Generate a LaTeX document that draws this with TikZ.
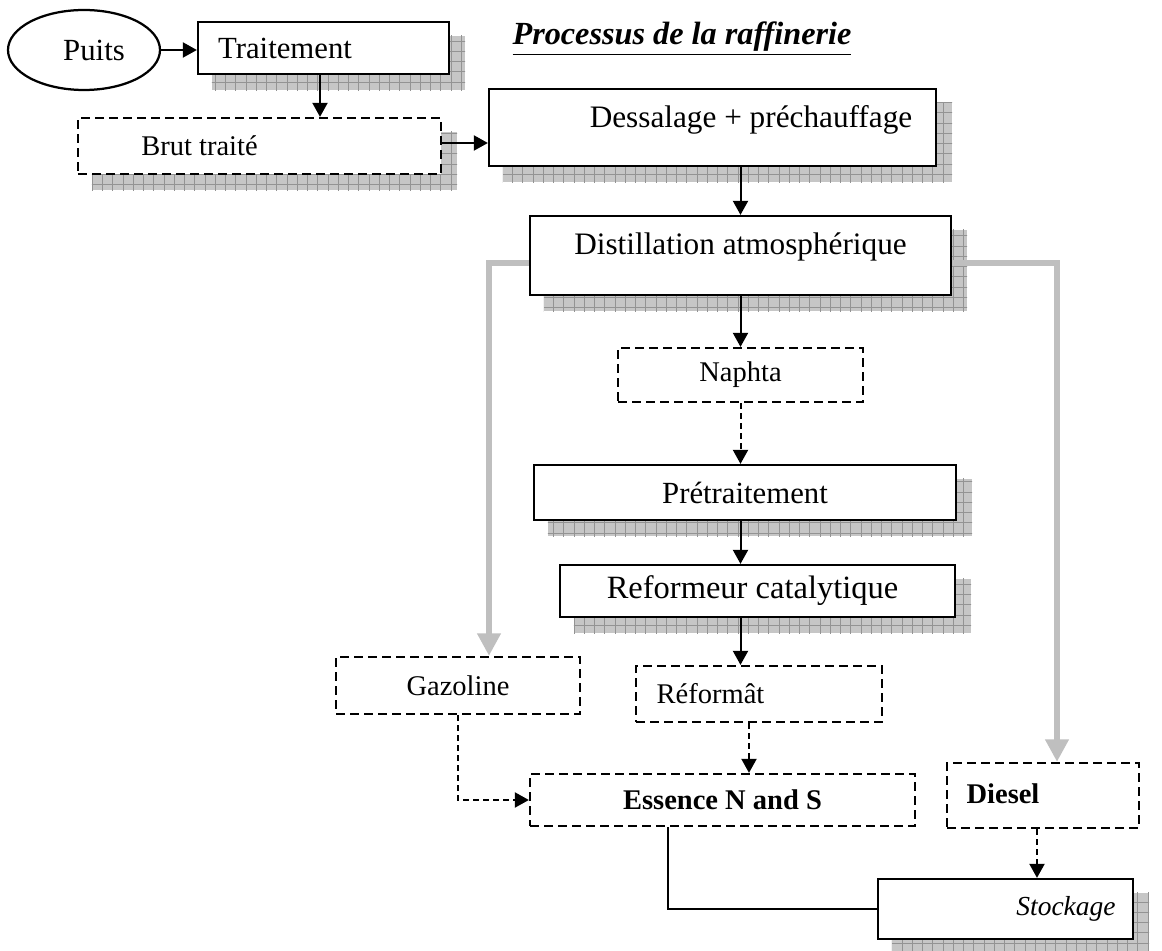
\documentclass[tikz,border=0pt]{standalone}
\usepackage{fontspec}
\setmainfont{Liberation Serif}
\usetikzlibrary{arrows.meta,shapes.geometric,backgrounds,calc}
\newcommand\pxu{0.4pt}
\newcommand\mvtext[3]{\hspace*{#1}\raisebox{#2}[\height][\depth]{#3}\hspace*{-#1}}
\newcommand\mkshadow[1]{%
  \begin{scope}
    \clip ([shift={(15,15)}]#1.north west) rectangle ([shift={(15,15)}]#1.south east);
    \fill[shadowfill] ([shift={(15,15)}]#1.north west) rectangle ([shift={(15,15)}]#1.south east);
    \draw[shadowgrid] ([shift={(5,5)}]#1.north west) grid ([shift={(25,25)}]#1.south east);
  \end{scope}}
\begin{document}
\begin{tikzpicture}[x=0.4pt, y=-0.4pt,
  every node/.style={font=\fontsize{12.3}{14}\selectfont},
  small/.style={font=\fontsize{11.4}{13}\selectfont},
  box/.style={draw, line width=0.9pt, fill=white, inner sep=0pt, rectangle},
  dbox/.style={box, small, dash pattern=on 3.6pt off 2pt},
  arr/.style={line width=0.8pt, -{Triangle[width=6pt,length=5.6pt]}},
  darr/.style={arr, dash pattern=on 2.4pt off 1.6pt},
  garr/.style={line width=2.4pt, draw=gray!50, -{Triangle[width=9pt,length=9pt]}},
  conn/.style={line width=0.8pt},
  shadowfill/.style={fill=gray!45},
  shadowgrid/.style={draw=gray!85, line width=0.35pt, step=4.1pt}]
\useasboundingbox (0,0) rectangle (1162,951);

% title
\node[font=\fontsize{12.9}{15}\selectfont\bfseries\itshape] (title) at (682,39) {\underline{Processus de la raffinerie}};

% nodes
\node[draw, ellipse, line width=0.9pt, minimum width=152*\pxu, minimum height=80*\pxu, inner sep=0pt] (puits) at (84,50) {\mvtext{4pt}{0pt}{Puits}};
\node[box, minimum width=251*\pxu, minimum height=52*\pxu] (trait) at (323.5,48) {\mvtext{-15.4pt}{0pt}{Traitement}};
\node[dbox, minimum width=363*\pxu, minimum height=56*\pxu] (brut) at (259.5,146) {\mvtext{-24pt}{0pt}{Brut traité}};
\node[box, font=\fontsize{12.5}{14}\selectfont, minimum width=447*\pxu, minimum height=77*\pxu] (dessal) at (712.5,127.5) {\mvtext{15.4pt}{3pt}{Dessalage + préchauffage}};
\node[box, font=\fontsize{12.5}{14}\selectfont, minimum width=421*\pxu, minimum height=79*\pxu] (distil) at (740.5,255.5) {\mvtext{0pt}{3.4pt}{Distillation atmosphérique}};
\node[dbox, minimum width=245*\pxu, minimum height=54*\pxu] (naphta) at (740.5,375) {Naphta};
\node[box, minimum width=422*\pxu, minimum height=55*\pxu] (pretr) at (745,492.5) {Prétraitement};
\node[box, font=\fontsize{13}{15}\selectfont, minimum width=395*\pxu, minimum height=52*\pxu] (reform) at (757.5,591) {\mvtext{-2pt}{0pt}{Reformeur catalytique}};
\node[dbox, minimum width=244*\pxu, minimum height=57*\pxu] (gazol) at (458,685.5) {Gazoline};
\node[dbox, minimum width=246*\pxu, minimum height=56*\pxu] (reformat) at (759,694) {\mvtext{-19.4pt}{0pt}{Réformât}};
\node[dbox, minimum width=385*\pxu, minimum height=52*\pxu] (essence) at (722.5,800) {\textbf{Essence N and S}};
\node[dbox, minimum width=192*\pxu, minimum height=65*\pxu] (diesel) at (1043,795.5) {\mvtext{-16pt}{0.8pt}{\textbf{Diesel}}};
\node[box, font=\fontsize{11}{13}\selectfont, minimum width=255*\pxu, minimum height=60*\pxu] (stock) at (1005.5,909) {\mvtext{24.2pt}{0pt}{\textit{Stockage}}};

% shadows
\begin{pgfonlayer}{background}
\mkshadow{trait}
\mkshadow{brut}
\mkshadow{dessal}
\mkshadow{distil}
\mkshadow{pretr}
\mkshadow{reform}
\mkshadow{stock}
\end{pgfonlayer}

% gray connectors
\draw[garr] ([yshift=-3pt]distil.west) -| ([xshift=12.4pt]gazol.north);
\draw[garr] ([yshift=-3pt]distil.east) -| ([xshift=5.6pt]diesel.north);

% black connectors
\draw[arr] (puits.east) -- (puits.east -| trait.west);
\draw[arr] ([xshift=-1.4pt]trait.south) -- ([xshift=-1.4pt]trait.south |- brut.north);
\draw[arr] ([yshift=1.2pt]brut.east) -- ([yshift=1.2pt]brut.east -| dessal.west);
\draw[arr] (distil.north |- dessal.south) -- (distil.north);
\draw[arr] (distil.south) -- (naphta.north);
\draw[darr] (naphta.south) -- (naphta.south |- pretr.north);
\draw[arr] (naphta.south |- pretr.south) -- (naphta.south |- reform.north);
\draw[arr] (naphta.south |- reform.south) -- (naphta.south |- reformat.north);
\draw[darr] ([xshift=-4pt]reformat.south) -- ([xshift=-4pt]reformat.south |- essence.north);
\draw[darr] (gazol.south) |- (essence.west);
\draw[darr] ([xshift=-2.4pt]diesel.south) -- ([xshift=-2.4pt]diesel.south |- stock.north);
\draw[conn] ([xshift=-21.8pt]essence.south) |- (stock.west);
\end{tikzpicture}
\end{document}
